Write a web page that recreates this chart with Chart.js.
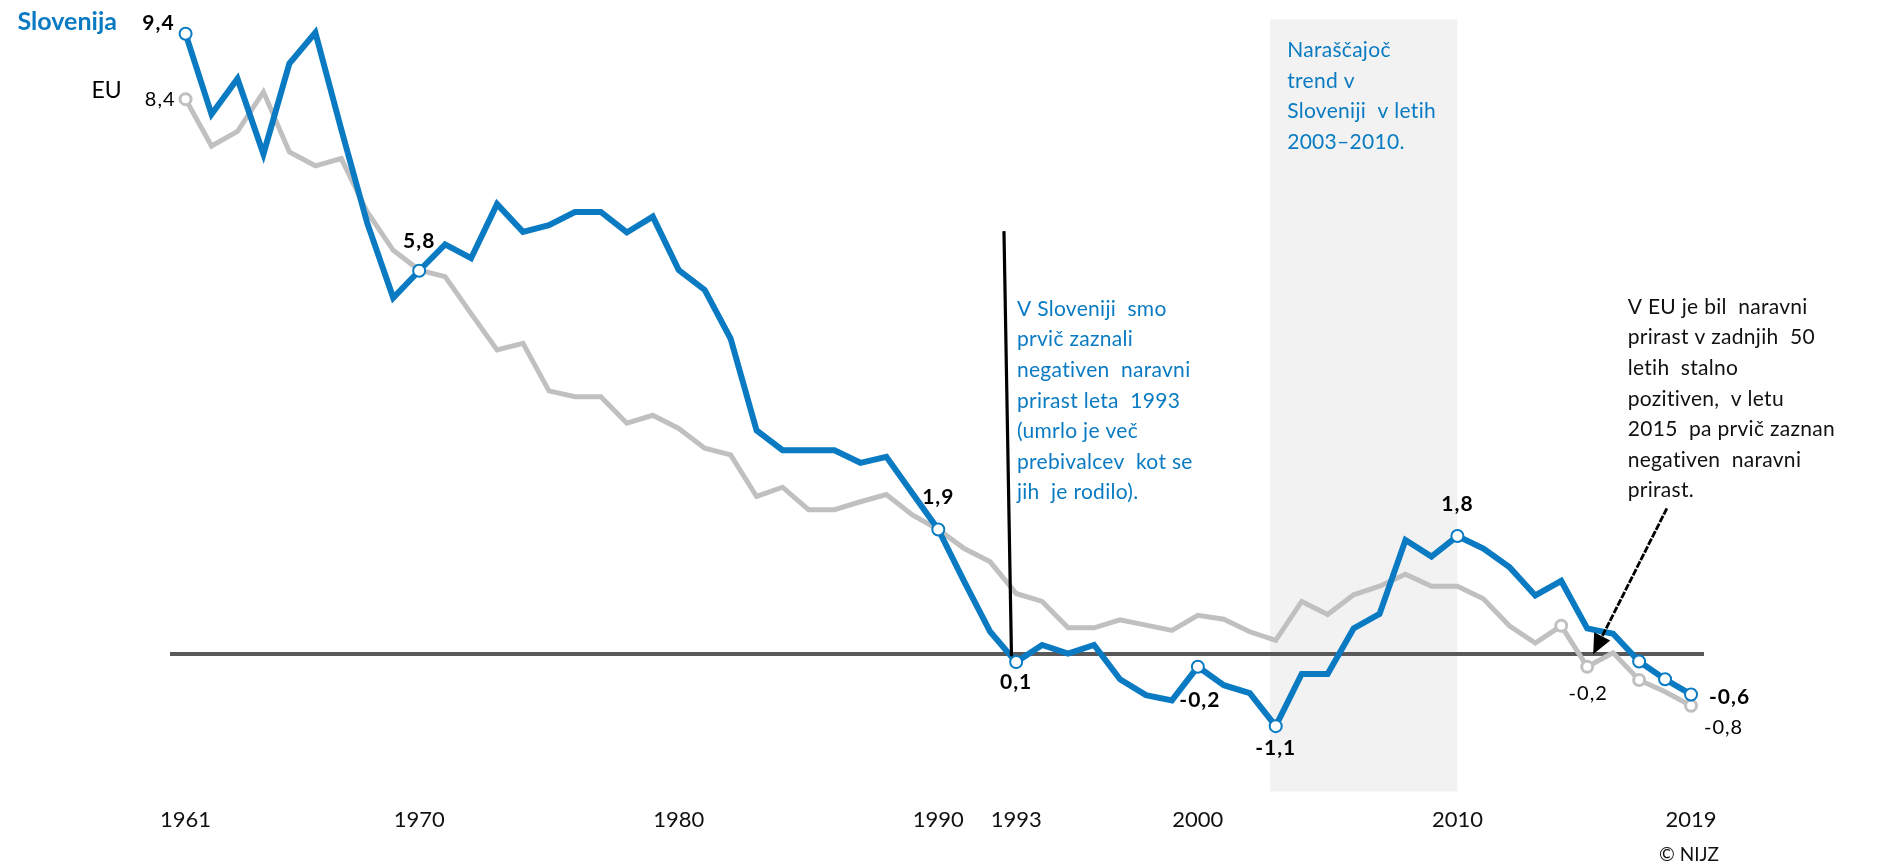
<!DOCTYPE html>
<html>
<head>
<meta charset="utf-8">
<script src="https://cdn.jsdelivr.net/npm/chart.js@4.4.1/dist/chart.umd.min.js"></script>
<style>
html,body{margin:0;padding:0;background:#fff;}
#wrap{position:relative;width:1879px;height:866px;}
</style>
</head>
<body>
<div id="wrap"><canvas id="c"></canvas></div>
<script>
// ---------- DATA ----------
const years = [1961,1962,1963,1964,1965,1966,1967,1968,1969,1970,
  1971,1972,1973,1974,1975,1976,1977,1978,1979,1980,
  1981,1982,1983,1984,1985,1986,1987,1988,1989,1990,
  1991,1992,1993,1994,1995,1996,1997,1998,1999,2000,
  2001,2002,2003,2004,2005,2006,2007,2008,2009,2010,
  2011,2012,2013,2014,2015,2016,2017,2018,2019];

const slovenija = [9.40,8.18,8.72,7.58,8.95,9.42,7.95,6.53,5.40,5.81,
  6.21,6.00,6.82,6.40,6.50,6.70,6.70,6.39,6.63,5.82,
  5.52,4.78,3.39,3.09,3.09,3.09,2.90,2.99,2.44,1.89,
  1.10,0.34,-0.12,0.14,0.01,0.14,-0.38,-0.62,-0.70,-0.19,
  -0.47,-0.59,-1.09,-0.30,-0.30,0.39,0.61,1.73,1.48,1.79,
  1.60,1.32,0.89,1.11,0.39,0.31,-0.11,-0.38,-0.61];

const eu = [8.41,7.70,7.92,8.52,7.61,7.40,7.51,6.70,6.12,5.82,
  5.72,5.16,4.61,4.71,3.99,3.90,3.90,3.50,3.62,3.42,
  3.12,3.02,2.39,2.53,2.19,2.19,2.31,2.42,2.11,1.89,
  1.60,1.40,0.92,0.80,0.40,0.40,0.52,0.44,0.36,0.59,
  0.53,0.34,0.21,0.80,0.60,0.90,1.03,1.21,1.03,1.03,
  0.84,0.43,0.17,0.43,-0.19,0.02,-0.39,-0.57,-0.78];

const tickYears = [1961,1970,1980,1990,1993,2000,2010,2019];

const slMarkerYears = [1961,1970,1990,1993,2000,2003,2010,2017,2018,2019];
const euMarkerYears = [1961,2014,2015,2017,2019];

const slLabelYears = [1961,1970,1990,1993,2000,2003,2010,2019];
const slLabelTexts = ['9,4','5,8','1,9','0,1','-0,2','-1,1','1,8','-0,6'];
const euLabelYears = [1961,2015,2019];
const euLabelTexts = ['8,4','-0,2','-0,8'];

const seriesNames = ['Slovenija','EU'];
const bandYears = [2002.78, 2010];

const noteSlovenia = ['V Sloveniji  smo','prvič zaznali','negativen  naravni','prirast leta  1993','(umrlo je več','prebivalcev  kot se','jih  je rodilo).'];
const noteBand = ['Naraščajoč','trend v','Sloveniji  v letih','2003–2010.'];
const noteEU = ['V EU je bil  naravni','prirast v zadnjih  50','letih  stalno','pozitiven,  v letu','2015  pa prvič zaznan','negativen  naravni','prirast.'];
const sourceText = '© NIJZ';

// ---------- STYLE ----------
const BLUE = '#0a7bc2';
const GREY = '#c0c0c0';
const FONT = 'Lato, "Open Sans", "DejaVu Sans", sans-serif';

function markerRadius(markerYears, r){ return years.map(y => markerYears.includes(y) ? r : 0); }

const labelStyle = {
  sl: {
    1961:{align:'right', dx:-11, dy:-11},
    1970:{align:'center', dx:0, dy:-30},
    1990:{align:'center', dx:0, dy:-32},
    1993:{align:'center', dx:0, dy:20},
    2000:{align:'center', dx:2, dy:33},
    2003:{align:'center', dx:0, dy:22},
    2010:{align:'center', dx:0, dy:-32},
    2019:{align:'left', dx:18, dy:3}
  },
  eu: {
    1961:{align:'right', dx:-10, dy:0},
    2015:{align:'center', dx:1, dy:27},
    2019:{align:'left', dx:13, dy:22}
  }
};

const annotPlugin = {
  id: 'annot',
  beforeDraw(chart){
    const {ctx, scales:{x, y}} = chart;
    ctx.save();
    ctx.fillStyle = '#f2f2f2';
    const x0 = x.getPixelForValue(bandYears[0]);
    const x1 = x.getPixelForValue(bandYears[1]);
    const y0 = y.getPixelForValue(9.62);
    const y1 = y.getPixelForValue(-2.08);
    ctx.fillRect(x0, y0, x1 - x0, y1 - y0);
    ctx.restore();
  },
  afterDatasetsDraw(chart){
    const {ctx, scales:{x, y}} = chart;
    const slMeta = chart.getDatasetMeta(0);
    const euMeta = chart.getDatasetMeta(1);
    ctx.save();
    ctx.textBaseline = 'middle';

    // vertical pointer line to 1993
    ctx.strokeStyle = '#000';
    ctx.lineWidth = 3.2;
    ctx.beginPath();
    ctx.moveTo(x.getPixelForValue(1992.53), y.getPixelForValue(6.41));
    ctx.lineTo(x.getPixelForValue(1992.82), y.getPixelForValue(-0.03));
    ctx.stroke();

    // arrow to EU 2015
    const ax0 = x.getPixelForValue(2018.07), ay0 = y.getPixelForValue(2.21);
    const ax1 = x.getPixelForValue(2015.23), ay1 = y.getPixelForValue(0.0);
    const ang = Math.atan2(ay1 - ay0, ax1 - ax0);
    const hl = 20, hw = 9;
    const bx = ax1 - hl*Math.cos(ang), by = ay1 - hl*Math.sin(ang);
    ctx.lineWidth = 2.8;
    ctx.setLineDash([7, 1.5]);
    ctx.beginPath(); ctx.moveTo(ax0, ay0); ctx.lineTo(bx, by); ctx.stroke();
    ctx.setLineDash([]);
    ctx.fillStyle = '#000';
    ctx.beginPath();
    ctx.moveTo(ax1, ay1);
    ctx.lineTo(bx + hw*Math.sin(ang), by - hw*Math.cos(ang));
    ctx.lineTo(bx - hw*Math.sin(ang), by + hw*Math.cos(ang));
    ctx.closePath(); ctx.fill();

    // value labels
    function drawLabels(meta, yrs, texts, styles, bold){
      ctx.font = (bold ? 'bold 21px ' : '20px ') + FONT;
      ctx.fillStyle = '#000';
      yrs.forEach((yr, i) => {
        const pt = meta.data[years.indexOf(yr)];
        const st = styles[yr];
        ctx.textAlign = st.align;
        ctx.fillText(texts[i], pt.x + st.dx, pt.y + st.dy);
      });
    }
    ctx.letterSpacing = '1px';
    drawLabels(slMeta, slLabelYears, slLabelTexts, labelStyle.sl, true);
    drawLabels(euMeta, euLabelYears, euLabelTexts, labelStyle.eu, false);
    ctx.letterSpacing = '0px';

    // series names
    const p0 = slMeta.data[0], e0 = euMeta.data[0];
    ctx.textAlign = 'left';
    ctx.fillStyle = BLUE;
    ctx.font = 'bold 25px ' + FONT;
    ctx.fillText(seriesNames[0], p0.x - 168, p0.y - 12);
    ctx.fillStyle = '#000';
    ctx.font = '23px ' + FONT;
    ctx.fillText(seriesNames[1], e0.x - 94, e0.y - 9);

    // notes
    function note(lines, xv, yv, color){
      ctx.fillStyle = color;
      ctx.font = '21px ' + FONT;
      ctx.textAlign = 'left';
      const px = x.getPixelForValue(xv), py = y.getPixelForValue(yv);
      lines.forEach((l, i) => ctx.fillText(l, px, py + i*30.6));
    }
    ctx.letterSpacing = '0.3px';
    note(noteSlovenia, 1993.03, 5.23, BLUE);
    note(noteBand, 2003.44, 9.15, BLUE);
    note(noteEU, 2016.56, 5.26, '#111');
    ctx.letterSpacing = '0px';

    // source
    ctx.fillStyle = '#111';
    ctx.font = '19px ' + FONT;
    ctx.textAlign = 'right';
    ctx.fillText(sourceText, chart.chartArea.right + 15, 855);
    ctx.restore();
  }
};

new Chart(document.getElementById('c'), {
  type: 'line',
  data: {
    datasets: [
      {
        label: seriesNames[0],
        data: years.map((yr, i) => ({x: yr, y: slovenija[i]})),
        borderColor: BLUE,
        borderWidth: 6,
        pointRadius: markerRadius(slMarkerYears, 6),
        pointBackgroundColor: '#fff',
        pointBorderColor: BLUE,
        pointBorderWidth: 2,
        tension: 0,
        borderJoinStyle: 'miter'
      },
      {
        label: seriesNames[1],
        data: years.map((yr, i) => ({x: yr, y: eu[i]})),
        borderColor: GREY,
        borderWidth: 5,
        pointRadius: markerRadius(euMarkerYears, 5.5),
        pointBackgroundColor: '#fff',
        pointBorderColor: GREY,
        pointBorderWidth: 3,
        tension: 0,
        borderJoinStyle: 'miter'
      }
    ]
  },
  options: {
    responsive: true,
    maintainAspectRatio: false,
    animation: false,
    events: [],
    layout: { padding: { left: 170, right: 175, top: 14, bottom: 18.8 } },
    plugins: { legend: { display: false }, tooltip: { enabled: false } },
    scales: {
      x: {
        type: 'linear',
        min: 1960.4, max: 2019.5,
        afterBuildTicks: s => { s.ticks = tickYears.map(v => ({value: v})); },
        ticks: { autoSkip: false, maxRotation: 0, minRotation: 0, padding: 14,
                 font: { family: FONT, size: 22 }, color: '#111',
                 callback: v => String(v) },
        grid: { display: false, drawTicks: false },
        border: { display: false }
      },
      y: {
        min: -2.1, max: 9.7,
        afterBuildTicks: s => { s.ticks = [{value: 0}]; },
        ticks: { display: false },
        grid: { color: '#595959', lineWidth: 4, drawTicks: false },
        border: { display: false }
      }
    }
  },
  plugins: [annotPlugin]
});
</script>
</body>
</html>
